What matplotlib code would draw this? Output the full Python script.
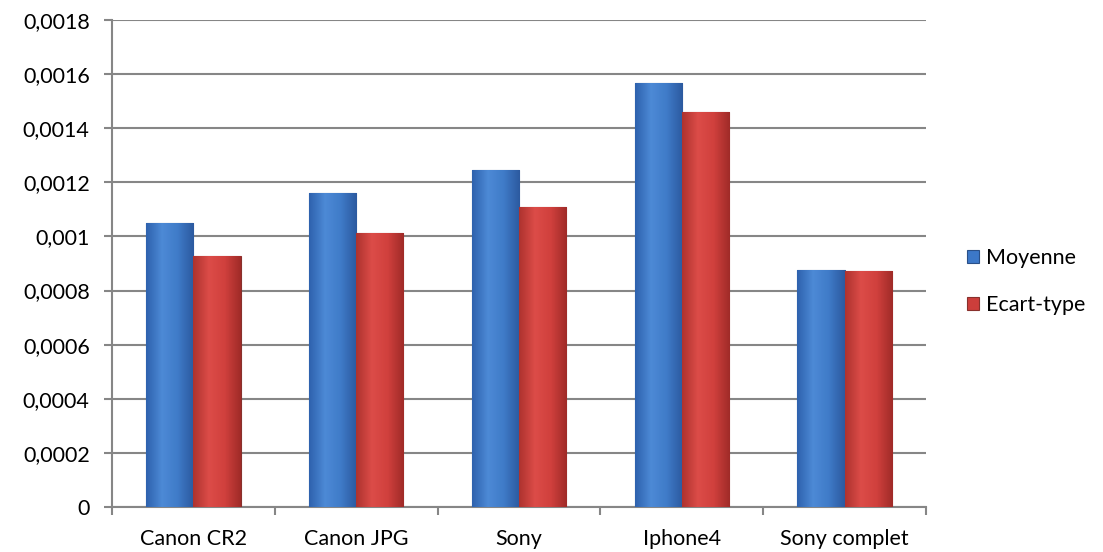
import matplotlib
matplotlib.use("Agg")
import matplotlib.pyplot as plt
import numpy as np
from matplotlib.colors import LinearSegmentedColormap

categories = ["Canon CR2", "Canon JPG", "Sony", "Iphone4", "Sony complet"]
moyenne = [0.001048, 0.001159, 0.001244, 0.001567, 0.000876]
ecart_type = [0.000926, 0.001011, 0.001107, 0.001459, 0.000872]
series_names = ["Moyenne", "Ecart-type"]
yticks = [0, 0.0002, 0.0004, 0.0006, 0.0008, 0.001, 0.0012, 0.0014, 0.0016, 0.0018]
ytick_labels = ["0", "0,0002", "0,0004", "0,0006", "0,0008", "0,001", "0,0012",
                "0,0014", "0,0016", "0,0018"]

plt.rcParams['font.family'] = ['Lato', 'DejaVu Sans']

fig = plt.figure(figsize=(11.03, 5.52), dpi=100)
ax = fig.add_axes([0.1015, 0.0815, 0.738, 0.8823])

x = np.arange(len(categories))
w = 0.29
grid_c = "#868686"
fs = 15.5

blue_cmap = LinearSegmentedColormap.from_list("b", ["#2E62AE", "#4D8AD6", "#3F7BC8", "#2C5AA0"])
red_cmap = LinearSegmentedColormap.from_list("r", ["#AE332F", "#DC4C48", "#D0403D", "#A02B28"])

b1 = ax.bar(x - w / 2, moyenne, w, color="#3C78C8", edgecolor="#2A5088", linewidth=0.8,
            label=series_names[0], zorder=3)
b2 = ax.bar(x + w / 2, ecart_type, w, color="#CC3E3B", edgecolor="#88302C", linewidth=0.8,
            label=series_names[1], zorder=3)

grad = np.linspace(0, 1, 64).reshape(1, -1)
for bars, cmap in ((b1, blue_cmap), (b2, red_cmap)):
    for r in bars:
        x0, y0 = r.get_x(), r.get_y()
        im = ax.imshow(grad, cmap=cmap, aspect="auto", zorder=3.5,
                       extent=(x0, x0 + r.get_width(), y0, y0 + r.get_height()))
        im.set_clip_path(r)

ax.set_xlim(-0.5, len(categories) - 0.5)
ax.set_ylim(0, 0.0018)
ax.set_yticks(yticks)
ax.set_yticklabels(ytick_labels, fontsize=fs)
ax.set_xticks(x)
ax.set_xticklabels(categories, fontsize=fs)
ax.tick_params(axis="x", length=0, pad=16)
ax.set_xticks(np.arange(len(categories) + 1) - 0.5, minor=True)
ax.tick_params(axis="x", which="minor", length=6, width=1.5, color=grid_c)
ax.tick_params(axis="y", length=6, width=1.5, color=grid_c, pad=10)
ax.yaxis.grid(True, color=grid_c, linewidth=1.5, zorder=0)
ax.set_axisbelow(True)
for s in ("top", "right"):
    ax.spines[s].set_visible(False)
for s in ("left", "bottom"):
    ax.spines[s].set_color(grid_c)
    ax.spines[s].set_linewidth(1.5)

leg = ax.legend(loc="center left", bbox_to_anchor=(1.051, 0.463), frameon=False,
                fontsize=fs, handlelength=0.55, handleheight=0.55, handletextpad=0.3,
                labelspacing=1.25, borderpad=0, borderaxespad=0)

fig.savefig("out.png", dpi=100)
